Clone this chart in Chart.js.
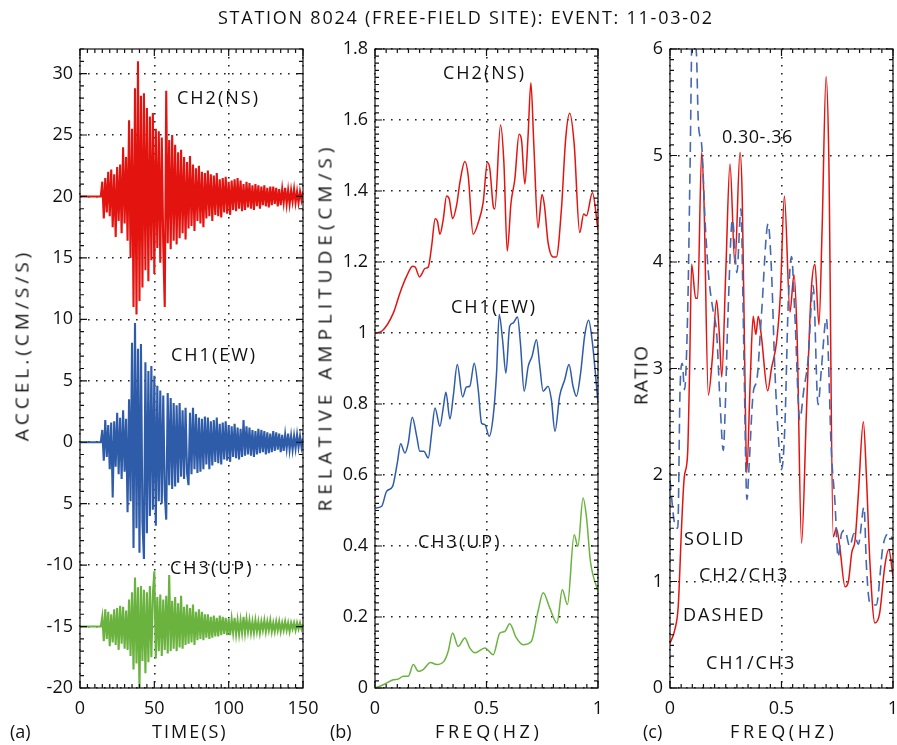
<!DOCTYPE html>
<html>
<head>
<meta charset="utf-8">
<script src="https://cdn.jsdelivr.net/npm/chart.js@4.4.1/dist/chart.umd.min.js"></script>
<style>
  body { margin: 0; background: #fff; }
  #wrap { position: relative; width: 897px; height: 745px; overflow: hidden; font-family: 'Open Sans', sans-serif; color: #111; }
  canvas { position: absolute; top: 0; }
  .t { position: absolute; white-space: nowrap; font-size: 18px; letter-spacing: 2px; line-height: 1; transform: translateY(-50%); z-index: 5; }
  .rot { position: absolute; white-space: nowrap; font-size: 19px; letter-spacing: 3px; line-height: 1; transform: translate(-50%, -50%) rotate(-90deg); z-index: 5; }
</style>
</head>
<body>
<div id="wrap">
  <canvas id="chartA" width="330" height="745" style="left:0px"></canvas>
  <canvas id="chartB" width="320" height="745" style="left:300px"></canvas>
  <canvas id="chartC" width="297" height="745" style="left:600px"></canvas>

  <div class="t" style="left:218px;top:17px;font-size:18px;letter-spacing:1.75px">STATION 8024 (FREE-FIELD SITE): EVENT: 11-03-02</div>

  <div class="rot" style="left:22px;top:345px;letter-spacing:4px">ACCEL.(CM/S/S)</div>
  <div class="rot" style="left:325px;top:327px;letter-spacing:5px">RELATIVE AMPLITUDE(CM/S)</div>
  <div class="rot" style="left:641px;top:375px;letter-spacing:1.2px">RATIO</div>

  <div class="t" style="left:152px;top:731px">TIME(S)</div>
  <div class="t" style="left:435px;top:731px;letter-spacing:3.6px">FREQ(HZ)</div>
  <div class="t" style="left:730px;top:731px;letter-spacing:3.6px">FREQ(HZ)</div>
  <div class="t" style="left:10px;top:731px;letter-spacing:0">(a)</div>
  <div class="t" style="left:330px;top:731px;letter-spacing:0">(b)</div>
  <div class="t" style="left:643px;top:731px;letter-spacing:0">(c)</div>

  <div class="t" style="left:177px;top:97px">CH2(NS)</div>
  <div class="t" style="left:171px;top:354px">CH1(EW)</div>
  <div class="t" style="left:170px;top:567px">CH3(UP)</div>

  <div class="t" style="left:443px;top:72px">CH2(NS)</div>
  <div class="t" style="left:451px;top:306px">CH1(EW)</div>
  <div class="t" style="left:418px;top:541px">CH3(UP)</div>

  <div class="t" style="left:722px;top:136px;letter-spacing:0.5px">0.30-.36</div>
  <div class="t" style="left:684px;top:538px">SOLID</div>
  <div class="t" style="left:699px;top:574px">CH2/CH3</div>
  <div class="t" style="left:683px;top:614px">DASHED</div>
  <div class="t" style="left:706px;top:662px">CH1/CH3</div>
</div>
<script>
// ---- panel (a): accelerograms, one sample per second, t = 0..150 s ----
const CH2_ACC = [
  0,0,0,0,0,0,0,0,0,0,0,0,0,0,0,
  1.2,-1.8,1.5,-1.3,2.0,-1.6,2.2,-2.5,1.8,-3.3,
  2.4,-2.0,2.6,-3.0,4.0,-2.2,3.2,-3.6,6.2,-5.0,
  5.5,-9.0,8.8,-9.6,11.0,-8.5,8.2,-7.4,8.4,-6.0,
  7.2,-6.9,6.5,-5.2,6.8,-6.3,5.5,-4.2,5.3,-5.4,
  4.8,-4.0,-9.0,8.6,-3.8,4.6,-4.3,5.0,-3.6,4.2,
  -3.9,3.6,-3.4,3.8,-3.0,3.2,-3.5,2.8,-2.6,3.3,
  -2.4,2.6,-2.8,2.3,-2.0,2.5,-2.2,2.0,-2.5,1.9,
  -1.8,2.1,-1.6,1.8,-2.0,1.7,-1.5,1.9,-1.6,1.4,
  -1.7,1.5,-1.3,1.6,-1.4,1.2,-1.5,1.3,-1.1,1.4,
  -1.2,1.5,-1.0,1.3,-1.2,1.0,-1.1,1.2,-0.9,1.1,
  -1.0,0.9,-1.1,1.0,-0.8,0.9,-1.0,0.8,-0.7,0.9,
  -0.8,0.7,-0.9,0.8,-0.7,0.8,-0.6,0.7,-0.8,0.6,
  -0.7,0.6,-0.5,0.7,-0.6,0.5,-0.6,0.5,-0.4,0.6,
  -0.5,0.4,-0.5,0.4,-0.3,0.4
];
const CH1_ACC = [
  0,0,0,0,0,0,0,0,0,0,0,0,0,0,0,
  1.0,-1.5,1.8,-1.2,1.4,-2.2,1.6,-4.5,1.7,-2.0,
  2.4,-2.6,2.0,-3.0,2.6,-2.4,1.9,-5.7,3.5,-4.8,
  8.1,-8.6,9.7,-7.0,7.6,-9.0,8.0,-6.5,-9.5,6.5,
  -7.4,5.8,-6.0,6.2,-5.5,5.4,-6.8,4.6,-4.8,4.2,
  -5.0,3.8,-4.2,-6.3,4.0,-3.5,3.6,-3.8,3.2,-3.6,
  3.0,-3.3,3.2,-2.8,2.6,-3.0,2.8,-2.5,-3.5,2.4,
  -2.6,2.8,-2.2,2.3,-2.5,2.0,-2.4,1.9,-2.2,2.1,
  -1.8,2.0,-2.2,1.7,-1.9,1.8,-1.6,2.0,-1.7,1.5,
  -1.8,1.6,-1.4,1.7,-1.5,1.4,-1.6,1.3,-1.2,1.5,
  -1.3,1.2,-1.4,1.1,-1.2,1.8,-1.1,1.3,-1.0,1.2,
  -1.1,1.0,-1.2,0.9,-1.0,1.1,-0.9,1.0,-0.8,0.9,
  -1.0,0.8,-0.9,0.7,-0.8,0.9,-0.7,0.8,-0.6,0.7,
  -0.8,0.6,-0.7,0.6,-0.5,0.7,-0.6,0.5,-0.6,0.5,
  -0.5,0.6,-0.4,0.5,-0.4,0.3
];
const CH3_ACC = [
  0,0,0,0,0,0,0,0,0,0,0,0,0,0,0,
  0.8,-1.2,1.4,-1.0,1.2,-1.6,1.0,-1.3,1.4,-1.5,
  1.5,-1.9,1.7,-1.4,1.6,-1.8,1.3,-1.9,2.2,-2.4,
  2.8,-3.5,4.0,-3.0,3.2,-5.0,3.3,-2.8,3.0,-3.8,
  2.8,-2.9,3.3,-2.5,2.6,4.5,-2.6,2.4,-2.0,2.6,
  -2.4,2.2,-1.9,2.5,-2.2,4.2,-2.0,2.1,-1.8,2.4,
  -2.0,1.9,-1.7,2.5,-1.8,1.6,-1.5,1.8,-1.4,1.5,
  -1.3,1.8,-1.5,1.2,-1.1,1.4,-1.0,1.2,-1.1,1.0,
  -0.9,1.0,-1.0,0.8,-0.9,0.9,-0.8,0.7,-0.8,0.9,
  -0.7,0.8,-0.6,0.7,-0.7,0.6,-0.7,0.6,-0.5,0.7,
  -0.6,0.5,-0.6,0.5,-0.5,0.8,-0.5,0.6,-0.4,0.5,
  -0.5,0.4,-0.5,0.5,-0.4,0.4,-0.5,0.4,-0.3,0.5,
  -0.4,0.4,-0.3,0.5,-0.4,0.3,-0.4,0.4,-0.3,0.4,
  -0.4,0.3,-0.3,0.4,-0.3,0.3,-0.4,0.3,-0.2,0.3,
  -0.3,0.3,-0.2,0.3,-0.2,0.2
];
const TRACE_OFFSETS = [20, 0, -15];   // CH2, CH1, CH3 baselines
const TICKS_A_X = [0, 50, 100, 150];
const TICKS_A_Y = [-20, -15, -10, -5, 0, 5, 10, 15, 20, 25, 30];

// ---- panel (b): relative Fourier amplitude ----
const NS_FREQ = [0,0.03,0.082,0.112,0.142,0.169,0.18,0.2,0.209,0.224,0.239,0.254,0.27,0.28,0.291,0.306,0.321,0.333,0.348,0.366,0.381,0.403,0.418,0.44,0.463,0.485,0.504,0.515,0.53,0.537,0.563,0.578,0.593,0.61,0.627,0.646,0.657,0.672,0.686,0.699,0.712,0.731,0.749,0.76,0.776,0.799,0.813,0.836,0.855,0.873,0.893,0.918,0.936,0.948,0.975,1.0];
const NS_AMP  = [1.0,1.005,1.056,1.113,1.16,1.188,1.186,1.158,1.165,1.182,1.186,1.245,1.322,1.315,1.278,1.32,1.386,1.377,1.322,1.36,1.425,1.483,1.443,1.278,1.311,1.367,1.48,1.462,1.358,1.349,1.586,1.48,1.231,1.367,1.433,1.56,1.544,1.42,1.55,1.705,1.534,1.296,1.39,1.358,1.255,1.214,1.214,1.349,1.547,1.619,1.534,1.283,1.335,1.33,1.395,1.29];
const EW_FREQ = [0,0.03,0.052,0.079,0.1,0.115,0.134,0.149,0.167,0.187,0.201,0.219,0.239,0.254,0.269,0.291,0.306,0.318,0.336,0.351,0.369,0.393,0.41,0.425,0.445,0.463,0.478,0.493,0.512,0.53,0.545,0.557,0.572,0.587,0.604,0.619,0.639,0.652,0.669,0.687,0.704,0.724,0.739,0.754,0.776,0.791,0.807,0.828,0.851,0.87,0.888,0.903,0.922,0.94,0.958,0.975,1.0];
const EW_AMP  = [0.507,0.512,0.554,0.568,0.634,0.688,0.662,0.69,0.763,0.709,0.667,0.667,0.648,0.718,0.789,0.737,0.789,0.833,0.758,0.822,0.911,0.82,0.848,0.85,0.915,0.84,0.746,0.742,0.709,0.765,0.887,1.052,0.981,0.887,1.019,1.028,1.045,0.972,0.836,0.906,0.934,0.981,0.906,0.836,0.85,0.812,0.723,0.822,0.869,0.911,0.85,0.822,0.887,0.991,1.036,0.972,0.803];
const UP_FREQ = [0,0.037,0.082,0.104,0.127,0.149,0.172,0.194,0.216,0.249,0.276,0.309,0.328,0.348,0.373,0.403,0.425,0.448,0.493,0.53,0.56,0.582,0.604,0.634,0.664,0.701,0.731,0.754,0.784,0.816,0.84,0.863,0.893,0.91,0.933,0.948,0.966,1.0];
const UP_AMP  = [0,0.009,0.023,0.025,0.033,0.033,0.066,0.047,0.052,0.072,0.066,0.075,0.103,0.155,0.117,0.141,0.113,0.099,0.113,0.094,0.155,0.159,0.181,0.141,0.122,0.131,0.216,0.268,0.225,0.183,0.277,0.235,0.432,0.399,0.535,0.483,0.357,0.272];
const TICKS_B_X = [0, 0.5, 1];
const TICKS_B_Y = [0, 0.2, 0.4, 0.6, 0.8, 1, 1.2, 1.4, 1.6, 1.8];

// ---- panel (c): spectral ratios ----
const R23_FREQ = [0,0.022,0.037,0.052,0.064,0.079,0.088,0.097,0.115,0.124,0.142,0.152,0.172,0.19,0.209,0.221,0.232,0.25,0.269,0.291,0.314,0.324,0.336,0.344,0.36,0.373,0.385,0.396,0.41,0.438,0.455,0.478,0.495,0.513,0.538,0.556,0.57,0.59,0.612,0.634,0.65,0.668,0.682,0.70,0.712,0.732,0.746,0.761,0.785,0.80,0.815,0.83,0.845,0.867,0.881,0.896,0.919,0.94,0.963,0.981,1.0];
const R23_VAL  = [0.42,0.55,0.77,1.52,1.98,2.2,3.0,3.98,3.66,3.66,5.03,4.6,2.75,3.1,3.64,3.33,2.92,3.9,4.92,3.98,5.03,4.6,2.92,2.02,2.9,3.49,3.32,3.49,3.3,2.79,3.0,3.25,3.7,4.62,3.53,3.88,3.3,1.36,2.6,3.75,3.98,3.41,4.3,5.74,5.0,1.42,1.5,1.33,0.95,1.0,1.27,1.39,1.83,2.5,1.98,1.2,0.61,0.7,1.14,1.3,1.05];
const R13_FREQ = [0,0.02,0.035,0.045,0.055,0.065,0.08,0.09,0.1,0.119,0.127,0.142,0.157,0.172,0.194,0.209,0.224,0.239,0.246,0.26,0.28,0.30,0.318,0.33,0.345,0.355,0.373,0.39,0.41,0.44,0.455,0.47,0.485,0.5,0.515,0.53,0.545,0.56,0.582,0.6,0.619,0.642,0.664,0.679,0.701,0.724,0.739,0.754,0.769,0.784,0.806,0.825,0.845,0.87,0.881,0.896,0.925,0.955,0.981,1.0];
const R13_VAL  = [1.95,1.55,1.5,2.8,3.05,2.8,3.6,4.9,6.2,5.94,5.31,5.1,4.4,3.9,3.53,3.34,2.7,2.23,2.52,3.5,4.4,3.9,4.5,3.3,1.77,2.1,2.77,2.9,3.5,4.36,3.92,3.0,2.39,2.05,2.45,3.6,4.05,3.5,2.52,2.8,3.08,3.78,2.66,3.0,3.47,2.2,1.77,1.23,1.45,1.48,1.33,1.45,1.35,1.7,1.14,0.8,0.78,1.33,1.45,1.39];
const TICKS_C_X = [0, 0.5, 1];
const TICKS_C_Y = [0, 1, 2, 3, 4, 5, 6];

const RED = '#e3140f', BLUE = '#2f5ca9', GREEN = '#6ab33f', DASH_BLUE = '#4469b0';

Chart.defaults.font.family = "'Open Sans', sans-serif";
Chart.defaults.font.size = 18;
Chart.defaults.color = '#111';
Chart.defaults.animation = false;

// box around the plot plus small inward ticks on all four sides
const framePlugin = {
    id: 'frame',
    afterDraw(chart, args, o) {
        const { ctx, chartArea: a, scales: { x, y } } = chart;
        ctx.save();
        ctx.strokeStyle = '#111';
        ctx.lineWidth = 1.2;
        ctx.strokeRect(a.left, a.top, a.right - a.left, a.bottom - a.top);
        const mark = (scale, step, major, horiz) => {
            const n = Math.round((scale.max - scale.min) / step);
            for (let i = 0; i <= n; i++) {
                const v = scale.min + i * step;
                const isMajor = Math.abs(v / major - Math.round(v / major)) < 1e-6;
                const len = isMajor ? 7 : 4;
                const p = scale.getPixelForValue(v);
                ctx.beginPath();
                if (horiz) {
                    ctx.moveTo(p, a.bottom); ctx.lineTo(p, a.bottom - len);
                    ctx.moveTo(p, a.top); ctx.lineTo(p, a.top + len);
                } else {
                    ctx.moveTo(a.left, p); ctx.lineTo(a.left + len, p);
                    ctx.moveTo(a.right, p); ctx.lineTo(a.right - len, p);
                }
                ctx.stroke();
            }
        };
        mark(x, o.xMinor, o.xMajor, true);
        mark(y, o.yMinor, o.yMajor, false);
        ctx.restore();
    }
};

function axis(min, max, ticks, fmt, size, isX) {
    return {
        type: 'linear', min: min, max: max,
        afterBuildTicks: s => { s.ticks = ticks.map(v => ({ value: v })); },
        afterFit: s => {
            if (isX) s.height = size; else s.width = size;
            s.paddingLeft = s.paddingRight = s.paddingTop = s.paddingBottom = 0;
        },
        ticks: { autoSkip: false, maxRotation: 0, padding: isX ? 10 : 7, callback: fmt },
        grid: { color: '#222', lineWidth: 1.6, drawTicks: false },
        border: { display: false, dash: [1.6, 6.4] }
    };
}

function baseOptions(padRight, xAxis, yAxis, frame) {
    return {
        responsive: false,
        devicePixelRatio: 1,
        layout: { padding: { top: 49, right: padRight, left: 0, bottom: 0 } },
        plugins: { legend: { display: false }, tooltip: { enabled: false }, frame: frame },
        elements: { point: { radius: 0 } },
        scales: { x: xAxis, y: yAxis }
    };
}

const num = v => String(Math.round(v * 10) / 10);

// panel (a)
const traces = [CH2_ACC, CH1_ACC, CH3_ACC];
const traceColors = [RED, BLUE, GREEN];
new Chart(document.getElementById('chartA'), {
    type: 'line',
    data: {
        datasets: traces.map((tr, k) => ({
            data: tr.map((v, t) => ({ x: t, y: v + TRACE_OFFSETS[k] })),
            borderColor: traceColors[k],
            borderWidth: 2.1,
            borderJoinStyle: 'miter',
            tension: 0
        })).reverse()
    },
    options: baseOptions(27,
        axis(0, 150, TICKS_A_X, v => String(v), 57, true),
        axis(-20, 32, TICKS_A_Y, v => (v === -5 ? '5' : String(v)), 80, false),
        { xMinor: 5, xMajor: 50, yMinor: 1, yMajor: 5 }),
    plugins: [framePlugin]
});

// panel (b)
const pair = (xs, ys) => xs.map((f, i) => ({ x: f, y: ys[i] }));
new Chart(document.getElementById('chartB'), {
    type: 'line',
    data: {
        datasets: [
            { data: pair(NS_FREQ, NS_AMP), borderColor: RED, borderWidth: 1.5, cubicInterpolationMode: 'monotone' },
            { data: pair(EW_FREQ, EW_AMP), borderColor: BLUE, borderWidth: 1.5, cubicInterpolationMode: 'monotone' },
            { data: pair(UP_FREQ, UP_AMP), borderColor: GREEN, borderWidth: 1.5, cubicInterpolationMode: 'monotone' }
        ]
    },
    options: baseOptions(22,
        axis(0, 1, TICKS_B_X, num, 57, true),
        axis(0, 1.8, TICKS_B_Y, num, 75, false),
        { xMinor: 0.05, xMajor: 0.5, yMinor: 0.02, yMajor: 0.2 }),
    plugins: [framePlugin]
});

// panel (c)
new Chart(document.getElementById('chartC'), {
    type: 'line',
    data: {
        datasets: [
            { data: pair(R13_FREQ, R13_VAL), borderColor: DASH_BLUE, borderWidth: 1.6, borderDash: [10, 6], cubicInterpolationMode: 'monotone' },
            { data: pair(R23_FREQ, R23_VAL), borderColor: RED, borderWidth: 1.5, cubicInterpolationMode: 'monotone' }
        ]
    },
    options: baseOptions(4,
        axis(0, 1, TICKS_C_X, num, 57, true),
        axis(0, 6, TICKS_C_Y, num, 70, false),
        { xMinor: 0.05, xMajor: 0.5, yMinor: 0.1, yMajor: 1 }),
    plugins: [framePlugin]
});
</script>
</body>
</html>
